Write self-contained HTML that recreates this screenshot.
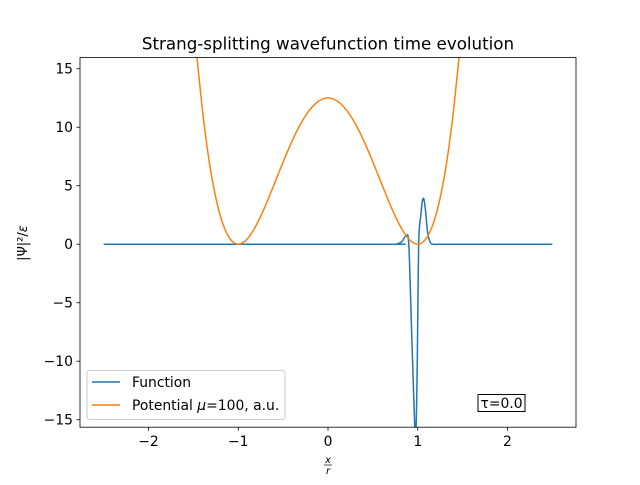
<!DOCTYPE html>
<html><head><meta charset="utf-8"><style>
body{margin:0;background:#fff}
svg{font-family:"DejaVu Sans","Liberation Sans",sans-serif}
</style></head><body>
<svg id="c" width="640" height="480" viewBox="0 0 640 480">
<rect width="640" height="480" fill="#fff"/>
<defs><clipPath id="clip"><rect x="80" y="57.6" width="496" height="369.6"/></clipPath></defs>
<text x="328" y="49.5" text-anchor="middle" font-size="16.7">Strang-splitting wavefunction time evolution</text>
<g id="plot" clip-path="url(#clip)"></g>
<g id="axes"></g>
<rect x="80" y="57.6" width="496" height="369.6" fill="none" stroke="#000" stroke-width="0.8"/>
<text text-anchor="middle" font-size="10" font-style="italic"><tspan x="328" y="463">x</tspan><tspan x="328" y="474">r</tspan></text>
<line x1="324" y1="465" x2="332" y2="465" stroke="#000" stroke-width="0.7"/>
<text transform="translate(27,243) rotate(-90)" text-anchor="middle" font-size="13">|Ψ|²/<tspan font-style="italic">ε</tspan></text>
<g>
<rect x="87" y="370.5" width="198" height="49" rx="3" fill="#fff" fill-opacity="0.8" stroke="#ccc"/>
<line x1="92" y1="382" x2="120" y2="382" stroke="#1f77b4" stroke-width="1.5"/>
<text x="132" y="387" font-size="13.9">Function</text>
<line x1="92" y1="405" x2="120" y2="405" stroke="#ff7f0e" stroke-width="1.5"/>
<text x="132" y="410" font-size="13.9">Potential <tspan font-style="italic">μ</tspan>=100, a.u.</text>
</g>
<g>
<rect x="478" y="394.5" width="47" height="17" fill="#fff" stroke="#000"/>
<text x="501.5" y="408" text-anchor="middle" font-size="13.9">τ=0.0</text>
</g>
</svg>
<script>
const xTicks=[-2,-1,0,1,2];
const xTickLabels=["−2","−1","0","1","2"];
const yTicks=[-15,-10,-5,0,5,10,15];
const yTickLabels=["−15","−10","−5","0","5","10","15"];
const funcX=[-2.5,0.6,0.7,0.76,0.82,0.87,0.90,0.93,0.955,0.977,0.995,1.01,1.035,1.05,1.066,1.085,1.11,1.14,1.17,1.25,1.35,2.5];
const funcY=[0,0,0,0,0.2,0.7,0,-7,-13,-16.5,-10,0,2.5,3.6,3.9,3.0,1.0,0.15,0,0,0,0];
const potX=[-1.6,-1.55,-1.5,-1.45,-1.4,-1.35,-1.3,-1.25,-1.2,-1.15,-1.1,-1.05,-1.0,-0.95,-0.9,-0.85,-0.8,-0.75,-0.7,-0.65,-0.6,-0.55,-0.5,-0.45,-0.4,-0.35,-0.3,-0.25,-0.2,-0.15,-0.1,-0.05,0,0.05,0.1,0.15,0.2,0.25,0.3,0.35,0.4,0.45,0.5,0.55,0.6,0.65,0.7,0.75,0.8,0.85,0.9,0.95,1.0,1.05,1.1,1.15,1.2,1.25,1.3,1.35,1.4,1.45,1.5,1.55,1.6];
const potY=[30.42,24.59,19.53,15.19,11.52,8.46,5.95,3.96,2.42,1.30,0.55,0.13,0,0.12,0.45,0.96,1.62,2.39,3.25,4.17,5.12,6.08,7.03,7.95,8.82,9.63,10.35,10.99,11.52,11.94,12.25,12.44,12.5,12.44,12.25,11.94,11.52,10.99,10.35,9.63,8.82,7.95,7.03,6.08,5.12,4.17,3.25,2.39,1.62,0.96,0.45,0.12,0,0.13,0.55,1.30,2.42,3.96,5.95,8.46,11.52,15.19,19.53,24.59,30.42];
const X0=-2.7636,X1=2.7636,Y0=-15.64,Y1=15.95;
const L=80,R=576,T=57.6,B=427.2;
const sx=v=>L+(v-X0)/(X1-X0)*(R-L);
const sy=v=>B-(v-Y0)/(Y1-Y0)*(B-T);
const NS="http://www.w3.org/2000/svg";
const plot=document.getElementById('plot'),axes=document.getElementById('axes');
function mk(tag,attrs,parent){const e=document.createElementNS(NS,tag);for(const k in attrs)e.setAttribute(k,attrs[k]);parent.appendChild(e);return e;}
function line(xs,ys,color,name){
  const P=xs.map((x,i)=>[sx(x),sy(ys[i])]);
  let d='M'+P[0][0].toFixed(2)+','+P[0][1].toFixed(2);
  for(let i=0;i<P.length-1;i++){
    const p0=P[Math.max(0,i-1)],p1=P[i],p2=P[i+1],p3=P[Math.min(P.length-1,i+2)];
    if(i===0||i===P.length-2){d+='L'+p2[0].toFixed(2)+','+p2[1].toFixed(2);continue;}
    const c1=[p1[0]+(p2[0]-p0[0])/6,p1[1]+(p2[1]-p0[1])/6];
    const c2=[p2[0]-(p3[0]-p1[0])/6,p2[1]-(p3[1]-p1[1])/6];
    d+='C'+c1[0].toFixed(2)+','+c1[1].toFixed(2)+' '+c2[0].toFixed(2)+','+c2[1].toFixed(2)+' '+p2[0].toFixed(2)+','+p2[1].toFixed(2);
  }
  const p=mk('path',{d:d,fill:'none',stroke:color,'stroke-width':1.5,'stroke-linejoin':'round'},plot);
  
  
}
line(funcX,funcY,'#1f77b4','function-line');
line(potX,potY,'#ff7f0e','potential-line');
xTicks.forEach((t,i)=>{
  const x=sx(t);
  mk('line',{x1:x,x2:x,y1:B,y2:B+3.5,stroke:'#000','stroke-width':0.8},axes);
  const tx=mk('text',{x:x,y:B+19,'text-anchor':'middle','font-size':13.9},axes);
  tx.textContent=xTickLabels[i];
  
  
});
yTicks.forEach((t,i)=>{
  const y=sy(t);
  mk('line',{x1:L-3.5,x2:L,y1:y,y2:y,stroke:'#000','stroke-width':0.8},axes);
  const tx=mk('text',{x:L-7,y:y+5,'text-anchor':'end','font-size':13.9},axes);
  tx.textContent=yTickLabels[i];
  
  
});
</script>
</body></html>
